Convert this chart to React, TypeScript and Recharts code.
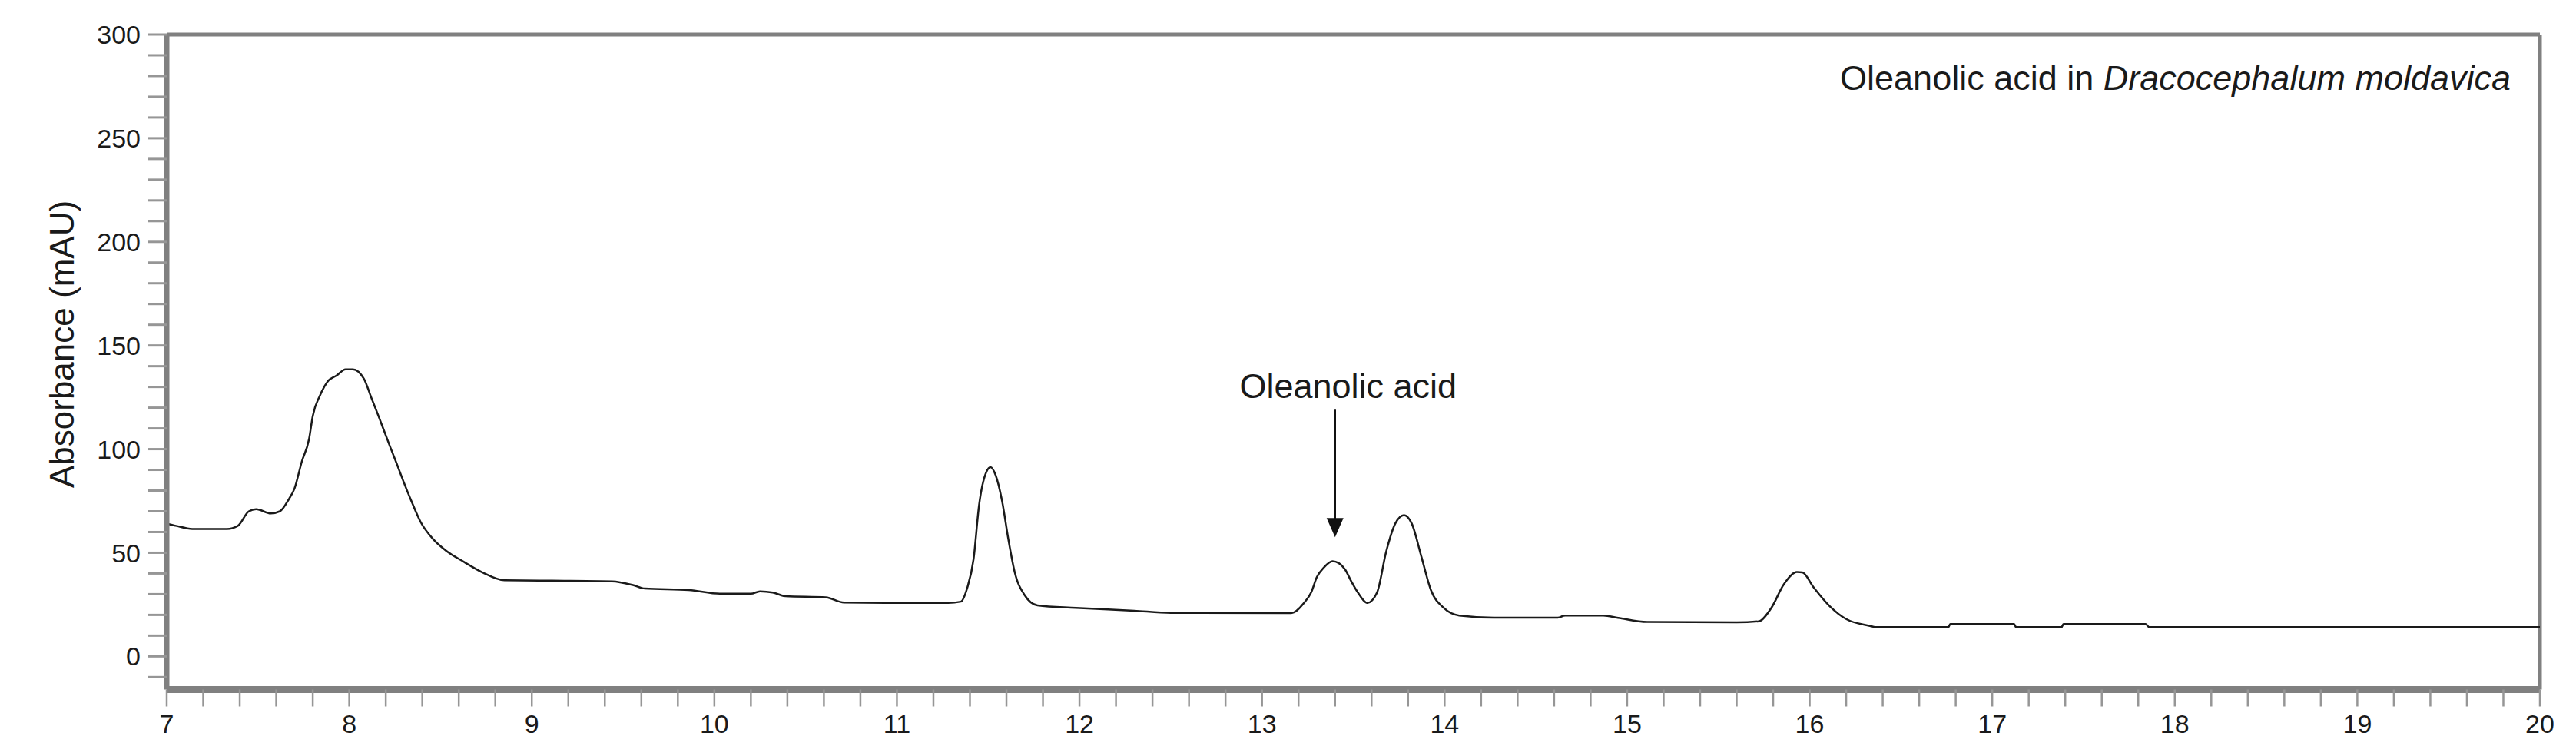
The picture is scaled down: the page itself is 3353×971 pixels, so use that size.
import React from 'react';
import {
  LineChart,
  Line,
  XAxis,
  YAxis,
  ReferenceLine,
  ReferenceDot,
  Customized
} from 'recharts';

// retention time (min) and absorbance (mAU)
const times = [
  7.0, 7.05, 7.14, 7.33, 7.39, 7.45, 7.49, 7.57, 7.62, 7.67, 7.7, 7.74, 7.78, 7.8, 7.84, 7.88, 7.93, 7.98,
  8.02, 8.08, 8.12, 8.16, 8.22, 8.26, 8.29, 8.34, 8.39, 8.46, 8.53, 8.63, 8.73, 8.85, 9.11, 9.44, 9.55, 9.62,
  9.86, 10.03, 10.2, 10.25, 10.32, 10.39, 10.61, 10.71, 11.0, 11.28, 11.35, 11.385, 11.42, 11.45, 11.49,
  11.513, 11.54, 11.576, 11.61, 11.645, 11.7, 11.77, 11.98, 12.3, 12.5, 13.16, 13.23, 13.27, 13.3, 13.34,
  13.386, 13.42, 13.455, 13.49, 13.525, 13.577, 13.63, 13.68, 13.73, 13.778, 13.82, 13.873, 13.925, 13.995,
  14.08, 14.27, 14.62, 14.66, 14.87, 14.95, 15.11, 15.6, 15.72, 15.79, 15.86, 15.93, 15.96, 16.02, 16.11,
  16.2, 16.33, 16.36, 16.76, 16.77, 17.12, 17.13, 17.38, 17.39, 17.84, 17.86, 20.0
];
const absorbance = [
  64, 63, 61.5, 61.5, 63, 70, 71, 69, 70, 76, 81, 94, 105, 116, 126, 132.5, 135.5, 138.5,
  138.5, 134, 125, 116, 102, 93, 86, 75, 65, 56.5, 51, 45.5, 40.5, 36.7, 36.5, 36.2, 34.5, 32.7,
  32, 30.2, 30.2, 31.4, 30.8, 29, 28.5, 26, 25.8, 25.8, 26.4, 33, 47, 73, 89,
  91.3, 87.6, 75, 56.7, 40.7, 29.5, 24.6, 23.4, 22, 21, 20.9, 25.8, 31, 38.2, 43,
  45.9, 45, 41.9, 36, 30.8, 25.8, 30.8, 50.5, 64.1, 68.1, 64.1, 48.1, 32, 23.4,
  19.7, 18.7, 18.7, 19.7, 19.7, 18.6, 16.6, 16.4, 16.9, 23.4, 35, 40.7, 40.5, 33.5, 24.2,
  18, 14.7, 14.1, 14.1, 15.6, 15.6, 14.1, 14.1, 15.6, 15.6, 14.1, 14.1
];

const majorX = [7, 8, 9, 10, 11, 12, 13, 14, 15, 16, 17, 18, 19, 20];
const majorY = [0, 50, 100, 150, 200, 250, 300];

const peakLabel = 'Oleanolic acid';
const peakTime = 13.4;
const peakArrowTip = 57.5;

const data = times.map((t, i) => ({ t, mAU: absorbance[i] }));

// minor ticks: 5 per min on x, every 10 mAU on y
const xTicks: number[] = [];
majorX.forEach((m, i) => {
  if (i === majorX.length - 1) { xTicks.push(m); return; }
  for (let k = 0; k < 5; k++) xTicks.push(Math.round((m + k * 0.2) * 10) / 10);
});
const yTicks: number[] = [-10];
majorY.forEach((m, i) => {
  if (i === majorY.length - 1) { yTicks.push(m); return; }
  for (let k = 0; k < 5; k++) yTicks.push(m + k * 10);
});

const FONT = '"Liberation Sans", Arial, Helvetica, sans-serif';
const AXIS = '#808080';
const TICK = '#969696';

const ArrowShape = (props: any) => {
  const { cx, cy } = props;
  if (cx == null || cy == null) return null;
  return (
    <g>
      <line x1={cx} y1={cy - 166} x2={cx} y2={cy - 22} stroke="#111" strokeWidth={2.5} />
      <polygon points={`${cx - 11},${cy - 25} ${cx + 11},${cy - 25} ${cx},${cy}`} fill="#111" />
      <text x={cx + 17} y={cy - 181} textAnchor="middle" fontSize={45} fontFamily={FONT} fill="#1a1a1a">
        {peakLabel}
      </text>
    </g>
  );
};

const Texts = () => (
  <g>
    <text
      x={80}
      y={448}
      transform="rotate(-90 80 448)"
      textAnchor="middle"
      dominantBaseline="central"
      fontSize={44}
      fontFamily={FONT}
      fill="#1a1a1a"
    >
      Absorbance (mAU)
    </text>
    <text x={3268} y={117} textAnchor="end" fontSize={45} fontFamily={FONT} fill="#1a1a1a">
      Oleanolic acid in <tspan fontStyle="italic">Dracocephalum moldavica</tspan>
    </text>
  </g>
);

export default function App() {
  return (
    <div style={{ position: 'absolute', left: 0, top: 0, width: 3353, height: 971, background: '#fff' }}>
      <LineChart width={3353} height={971} data={data} margin={{ top: 45, right: 47, bottom: 0, left: 0 }}>
        <XAxis
          dataKey="t"
          type="number"
          domain={[7, 20]}
          ticks={xTicks}
          interval={0}
          allowDataOverflow
          height={73.5}
          tickSize={22}
          tickMargin={10}
          tickFormatter={(v: number) => (Number.isInteger(v) ? String(v) : '')}
          axisLine={{ stroke: AXIS, strokeWidth: 9 }}
          tickLine={{ stroke: TICK, strokeWidth: 2.5 }}
          tick={{ fontSize: 34, fontFamily: FONT, fill: '#1a1a1a' }}
        />
        <YAxis
          type="number"
          domain={[-16, 300]}
          ticks={yTicks}
          interval={0}
          allowDataOverflow
          width={217}
          tickSize={24}
          tickMargin={10}
          tickFormatter={(v: number) => (v >= 0 && v % 50 === 0 ? String(v) : '')}
          axisLine={{ stroke: AXIS, strokeWidth: 7 }}
          tickLine={{ stroke: TICK, strokeWidth: 3 }}
          tick={{ fontSize: 34, fontFamily: FONT, fill: '#1a1a1a' }}
        />
        <ReferenceLine y={300} stroke={AXIS} strokeWidth={5} />
        <ReferenceLine x={20} stroke={AXIS} strokeWidth={5} />
        <Line
          type="monotone"
          dataKey="mAU"
          stroke="#1a1a1a"
          strokeWidth={2.5}
          dot={false}
          activeDot={false}
          isAnimationActive={false}
        />
        <ReferenceDot x={peakTime} y={peakArrowTip} r={0} shape={ArrowShape} />
        <Customized component={Texts} />
      </LineChart>
    </div>
  );
}
